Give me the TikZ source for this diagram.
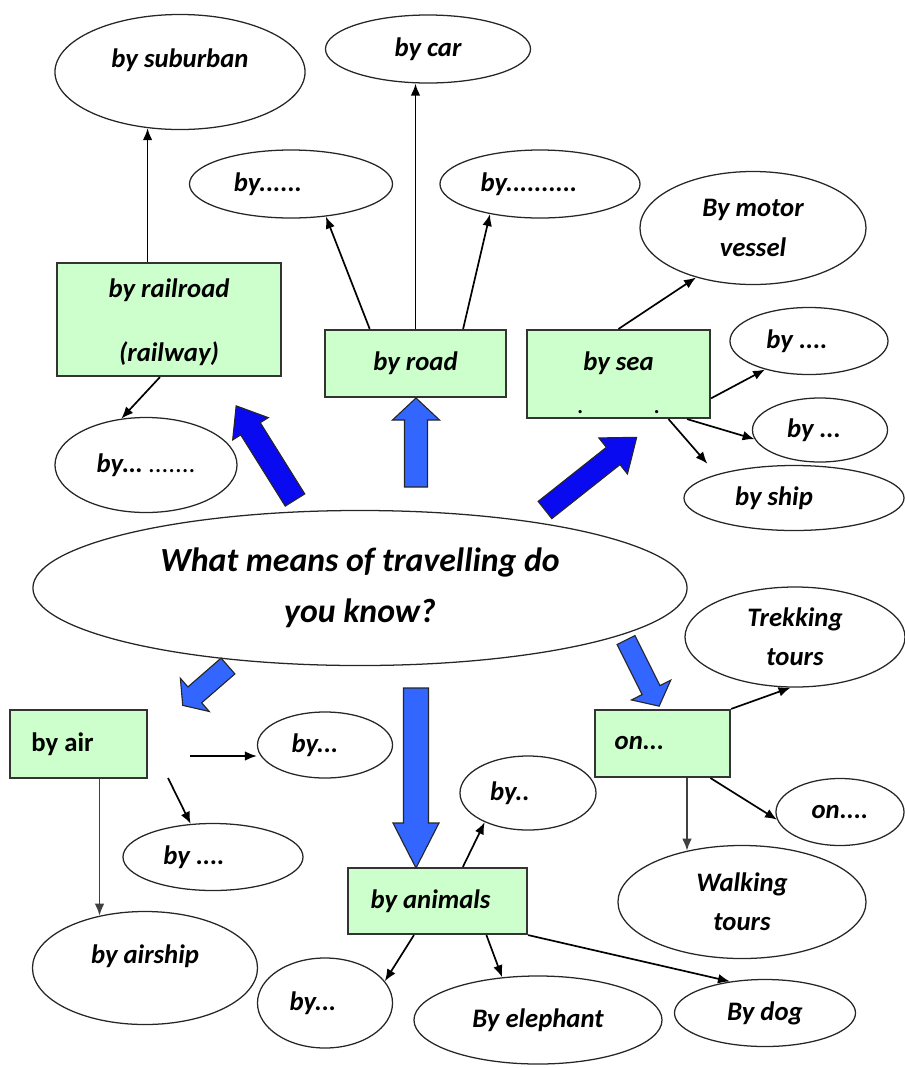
\documentclass[tikz,border=0pt]{standalone}
\usepackage{fontspec}
\setmainfont{Carlito}
\usetikzlibrary{shapes.geometric,arrows.meta,calc}
\definecolor{mint}{RGB}{204,255,204}
\definecolor{deepblue}{RGB}{10,10,240}
\definecolor{skyblue}{RGB}{51,102,255}
% block arrow: style, tail, angle, length, half shaft, half head, head length
\newcommand{\fatarrow}[7]{%
  \begin{scope}[shift={#2},rotate=#3]
    \draw[#1] (0,-#5) -- ({#4-#7},-#5) -- ({#4-#7},-#6) -- (#4,0)
      -- ({#4-#7},#6) -- ({#4-#7},#5) -- (0,#5) -- cycle;
  \end{scope}}
\begin{document}
\begin{tikzpicture}[x=0.025cm,y=-0.025cm,
  bubble/.style={ellipse,draw=black!85,line width=0.9pt,inner sep=0pt,align=center,
    font=\fontsize{19}{28}\selectfont\bfseries\itshape},
  greenbox/.style={rectangle,draw=black!80,line width=1.5pt,fill=mint,inner sep=0pt,align=center,
    font=\fontsize{19}{28}\selectfont\bfseries\itshape},
  link/.style={-{Latex[length=3mm,width=2.4mm]},line width=1.2pt},
  fatdark/.style={fill=deepblue,draw=black!85,line width=0.8pt},
  fatlight/.style={fill=skyblue,draw=black!85,line width=0.8pt}]
\useasboundingbox (0,0) rectangle (904,1068);

% question in the middle
\node[bubble,minimum width=16.35cm,minimum height=3.875cm,
  font=\fontsize{24}{36}\selectfont\bfseries\itshape] (quest) at (360,588)
  {What means of travelling do\\you know?};

% railroad
\node[greenbox,minimum width=5.6cm,minimum height=2.825cm] (rail) at (169,319.5) {\rule{0pt}{0.6cm}by railroad\\[17pt](railway)};
\node[bubble,minimum width=6.25cm,minimum height=2.875cm] (sub) at (180,72) {by suburban\\[-8pt]\mbox{}};
\node[bubble,minimum width=4.55cm,minimum height=2.375cm] (railx) at (146,465) {by\ldots{} {\mdseries\upshape .......}};
\draw[link] (sub.240 |- rail.north) -- (sub.240);
\draw[link] ($(rail.south west)!0.46!(rail.south east)$) -- (railx.118);

% road
\node[greenbox,minimum width=4.525cm,minimum height=1.675cm] (road) at (415.5,363.5) {by road};
\node[bubble,minimum width=5.125cm,minimum height=1.7cm] (car) at (428,49) {by car};
\node[bubble,minimum width=5.075cm,minimum height=1.7cm] (roadl) at (291,184) {by......\hspace*{1.15cm}};
\node[bubble,minimum width=5cm,minimum height=1.7cm] (roadr) at (540,184) {by..........\hspace*{0.55cm}};
\draw[link] (road.north) -- (road.north |- car.south);
\draw[link] ($(road.north west)!0.25!(road.north east)$) -- (roadl.-43);
\draw[link] ($(road.north west)!0.76!(road.north east)$) -- (roadr.211);

% sea
\node[greenbox,minimum width=4.575cm,minimum height=2.2cm] (sea) at (618.5,374)
  {\rule{0pt}{0.9cm}by sea\\[3pt]{\mdseries\upshape .\hspace{1.75cm}.}};
\node[bubble,minimum width=5.65cm,minimum height=2.825cm] (motor) at (753,228) {By motor\\vessel};
\node[bubble,minimum width=3.95cm,minimum height=1.675cm] (sea1) at (809,341) {by ....\hspace*{0.6cm}};
\node[bubble,minimum width=3.375cm,minimum height=1.6cm] (sea2) at (820,430) {by ...\hspace*{0.3cm}};
\node[bubble,minimum width=5.5cm,minimum height=1.625cm] (ship) at (794,498) {by ship\hspace*{1cm}};
\draw[link] (sea.north) -- (motor.221);
\draw[link] ($(sea.north east)!0.77!(sea.south east)$) -- (sea1.213);
\draw[link] ($(sea.south west)!0.87!(sea.south east)$) -- (sea2.188);
\draw[link,shorten >=0.35cm] ($(sea.south west)!0.77!(sea.south east)$) -- (ship.163);

% air
\node[greenbox,minimum width=3.425cm,minimum height=1.7cm,
  font=\fontsize{19}{28}\selectfont\bfseries] (air) at (78.5,744) {by air\hspace*{0.8cm}};
\node[bubble,minimum width=3.375cm,minimum height=1.65cm] (air1) at (325,745) {by...\hspace*{0.5cm}};
\node[bubble,minimum width=4.5cm,minimum height=1.675cm] (air2) at (213,857) {by ....\hspace*{0.95cm}};
\node[bubble,minimum width=5.625cm,minimum height=2.825cm] (airship) at (145,968) {by airship\\[-8pt]\mbox{}};
\coordinate (airA) at (190,756);
\coordinate (airB) at (168,778);
\draw[link] (airA) -- (airA -| air1.west);
\draw[link] (airB) -- (air2.124);
\draw[link,black!75] (airship.131 |- air.south) -- (airship.131);

% animals
\node[greenbox,minimum width=4.475cm,minimum height=1.65cm] (anim) at (437.5,901) {by animals\hspace*{0.35cm}};
\node[bubble,minimum width=3.4cm,minimum height=1.85cm] (anim1) at (528,793) {by..\hspace*{0.9cm}};
\node[bubble,minimum width=3.375cm,minimum height=2.25cm] (anim2) at (325,1003) {by...\hspace*{0.6cm}};
\node[bubble,minimum width=6.2cm,minimum height=2.2cm] (eleph) at (538,1020) {By elephant};
\node[bubble,minimum width=4.525cm,minimum height=1.675cm] (dog) at (765,1013) {By dog};
\draw[link] ($(anim.north west)!0.64!(anim.north east)$) -- (anim1.214);
\draw[link] ($(anim.south west)!0.37!(anim.south east)$) -- (anim2.20);
\draw[link] ($(anim.south west)!0.77!(anim.south east)$) -- (eleph.130);
\draw[link] (anim.south east) -- (dog.138);

% on foot
\node[greenbox,minimum width=3.375cm,minimum height=1.675cm] (on) at (662.5,743.5) {on...\hspace*{1.15cm}};
\node[bubble,minimum width=5.5cm,minimum height=2.5cm] (trek) at (795,637) {Trekking\\tours};
\node[bubble,minimum width=3.2cm,minimum height=1.675cm] (on2) at (840,812) {on....};
\node[bubble,minimum width=6.2cm,minimum height=2.825cm] (walk) at (742,902) {Walking\\tours};
\draw[link] (on.north east) -- (trek.265);
\draw[link,black!75] (walk.137 |- on.south) -- (walk.137);
\draw[link] ($(on.south west)!0.85!(on.south east)$) -- (on2.187);

% big block arrows from the question
\fatarrow{fatdark}{(295,500)}{122}{111}{11.5}{21}{27}
\fatarrow{fatlight}{(416,487)}{90}{89}{11.5}{23.5}{22}
\fatarrow{fatdark}{(545,510)}{38.4}{117}{11}{23}{30}
\fatarrow{fatlight}{(228,666)}{221}{60}{10.5}{22}{16}
\fatarrow{fatlight}{(416,688)}{-90}{180}{12.5}{23}{45}
\fatarrow{fatlight}{(626,640)}{-63.4}{74}{10}{22}{18}
\end{tikzpicture}
\end{document}
